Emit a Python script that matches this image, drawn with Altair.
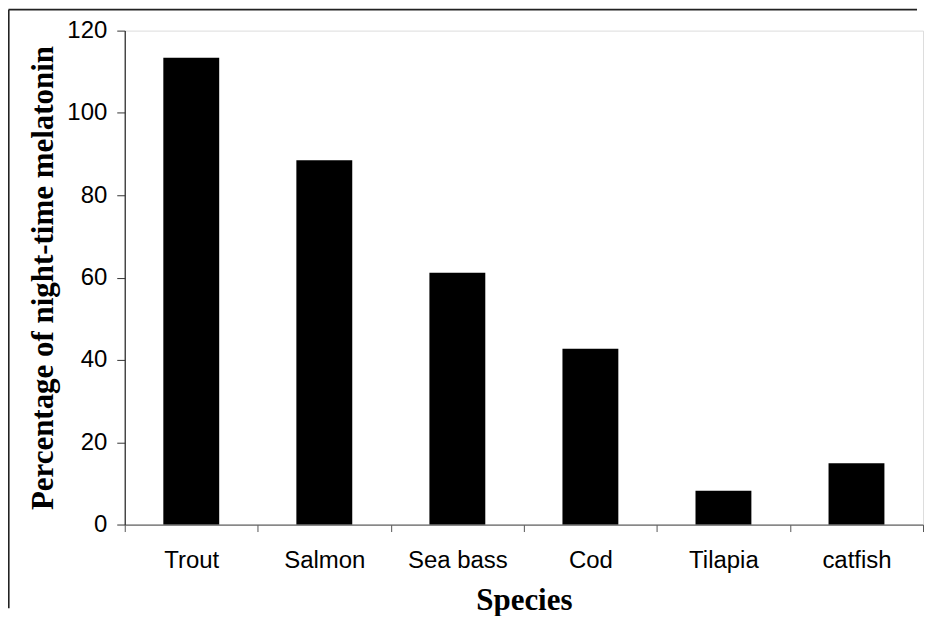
import altair as alt
import pandas as pd

species = ["Trout", "Salmon", "Sea bass", "Cod", "Tilapia", "catfish"]
melatonin_pct = [113.4, 88.5, 61.2, 42.7, 8.2, 14.9]
y_ticks = [0, 20, 40, 60, 80, 100, 120]

df = pd.DataFrame({"Species": species, "Value": melatonin_pct})

bars = alt.Chart(df).mark_bar(
    color="black", width=alt.RelativeBandSize(0.42)
).encode(
    x=alt.X(
        "Species:N",
        sort=species,
        scale=alt.Scale(paddingInner=0, paddingOuter=0),
        axis=alt.Axis(
            title="Species",
            labelAngle=0,
            labelFont="Liberation Sans",
            labelFontSize=24,
            labelColor="black",
            labelPadding=17,
            tickBand="extent",
            tickSize=7,
            tickColor="#555",
            domainColor="#666",
            domainWidth=1.3,
            titleFont="Liberation Serif",
            titleFontSize=31,
            titleFontWeight="bold",
            titleColor="black",
            titleX=400,
            titleY=85,
            titleAlign="center",
            titleBaseline="alphabetic",
        ),
    ),
    y=alt.Y(
        "Value:Q",
        scale=alt.Scale(domain=[0, 120], nice=False),
        axis=alt.Axis(
            title="Percentage of night-time melatonin",
            values=y_ticks,
            grid=False,
            labelFont="Liberation Sans",
            labelFontSize=24,
            labelColor="black",
            labelPadding=10,
            tickSize=8,
            tickColor="#333",
            domainColor="#333",
            domainWidth=1.3,
            titleFont="Liberation Serif",
            titleFontSize=31,
            titleFontWeight="bold",
            titleColor="black",
            titleAngle=-90,
            titleX=-72,
            titleY=247.5,
            titleAlign="center",
            titleBaseline="alphabetic",
        ),
    ),
)

frame_df = pd.DataFrame({"k": [0]})
frame_top = alt.Chart(frame_df).mark_rule(color="#222", strokeWidth=1.6).encode(
    x=alt.value(-116.5), x2=alt.value(794), y=alt.value(-21)
)
frame_left = alt.Chart(frame_df).mark_rule(color="#222", strokeWidth=1.6).encode(
    x=alt.value(-116.2), y=alt.value(-21), y2=alt.value(579)
)

chart = alt.layer(bars, frame_top, frame_left).properties(
    width=800,
    height=495,
    autosize=alt.AutoSizeParams(type="none"),
    padding={"left": 117, "top": 22, "right": 1, "bottom": 91},
).configure_view(stroke=None).configure(background="white")

chart.save("out.html", embed_options={"renderer": "svg", "actions": False})
